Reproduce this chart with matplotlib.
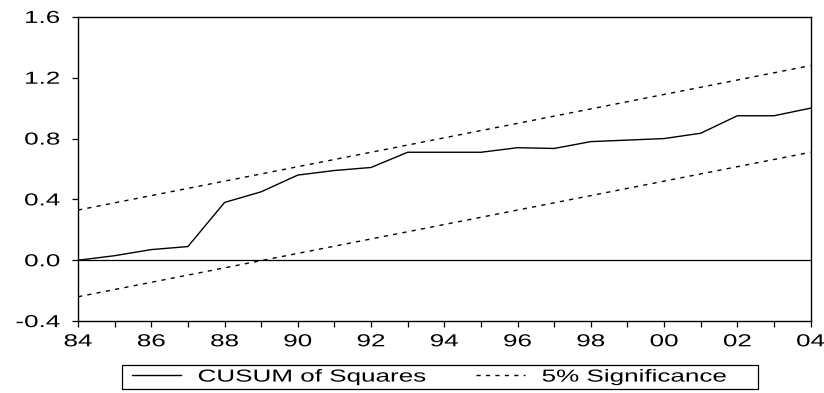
import matplotlib
matplotlib.use('Agg')
import matplotlib.pyplot as plt
import matplotlib.patches as patches
from matplotlib.patheffects import AbstractPathEffect
from matplotlib.transforms import Affine2D

plt.rcParams['font.family'] = ['Liberation Sans', 'DejaVu Sans']

# 年份与CUSUM平方和
years = list(range(1984, 2005))
cusum_sq = [0.00, 0.03, 0.07, 0.09, 0.38, 0.45, 0.56, 0.59, 0.61, 0.71, 0.71,
            0.71, 0.74, 0.735, 0.78, 0.79, 0.80, 0.835, 0.95, 0.95, 1.00]
# 5%显著性边界 (直线, 首尾两点)
bound_years = [1984, 2004]
upper = [0.33, 1.28]
lower = [-0.24, 0.71]

xtick_years = list(range(1984, 2005, 2))
xtick_labels = ['84', '86', '88', '90', '92', '94', '96', '98', '00', '02', '04']
yticks = [-0.4, 0.0, 0.4, 0.8, 1.2, 1.6]


# 原图字体被横向拉宽, 用路径效果横向拉伸文字
class Stretch(AbstractPathEffect):
    def __init__(self, sx, anchor='center'):
        super().__init__()
        self.sx = sx
        self.anchor = anchor

    def draw_path(self, renderer, gc, tpath, affine, rgbFace=None):
        ext = tpath.get_extents()
        if self.anchor == 'left':
            cx = ext.x0
        elif self.anchor == 'right':
            cx = ext.x1
        else:
            cx = (ext.x0 + ext.x1) / 2
        a = Affine2D().translate(-cx, 0).scale(self.sx, 1).translate(cx, 0) + affine
        renderer.draw_path(gc, tpath, a, rgbFace)


SX = 1.5
FS = 12.5
DASH = (3.0, 3.8)

fig = plt.figure(figsize=(8.24, 3.93), dpi=100)
ax = fig.add_axes([0.0947, 0.183, 0.889, 0.774])

ax.axhline(0, color='black', lw=0.9)
l1, = ax.plot(years, cusum_sq, color='black', lw=1.0, label='CUSUM of Squares')
l2, = ax.plot(bound_years, upper, color='black', lw=1.0, dashes=DASH,
              label='5% Significance')
ax.plot(bound_years, lower, color='black', lw=1.0, dashes=DASH)

ax.set_xlim(1984, 2004)
ax.set_ylim(-0.4, 1.6)
ax.set_xticks(range(1984, 2005))
ax.set_xticklabels(['' if y not in xtick_years else xtick_labels[xtick_years.index(y)]
                    for y in range(1984, 2005)])
ax.set_yticks(yticks)
ax.set_yticklabels(['%.1f' % v for v in yticks])
ax.tick_params(axis='both', direction='out', length=4, width=0.9, labelsize=FS,
               colors='black')
ax.tick_params(axis='y', pad=9)
ax.tick_params(axis='x', pad=5.5)
for s in ax.spines.values():
    s.set_linewidth(1.0)
for lbl in ax.get_xticklabels():
    lbl.set_path_effects([Stretch(SX, 'center')])
for lbl in ax.get_yticklabels():
    lbl.set_path_effects([Stretch(SX, 'right')])

# 图例 (无框, 外框单独画)
leg = fig.legend(handles=[l1, l2], loc='center left',
                 bbox_to_anchor=(132 / 824, 1 - 377 / 393),
                 ncol=2, fontsize=FS, frameon=False, borderpad=0, borderaxespad=0,
                 handlelength=2.85, handletextpad=0.95, columnspacing=7.2)
for t in leg.get_texts():
    t.set_path_effects([Stretch(SX, 'left')])
frame = patches.Rectangle((122 / 824, 1 - 389 / 393), 636 / 824, 24 / 393,
                          transform=fig.transFigure, fill=False,
                          edgecolor='black', lw=0.9)
fig.patches.append(frame)

plt.savefig('out.png', dpi=100)
